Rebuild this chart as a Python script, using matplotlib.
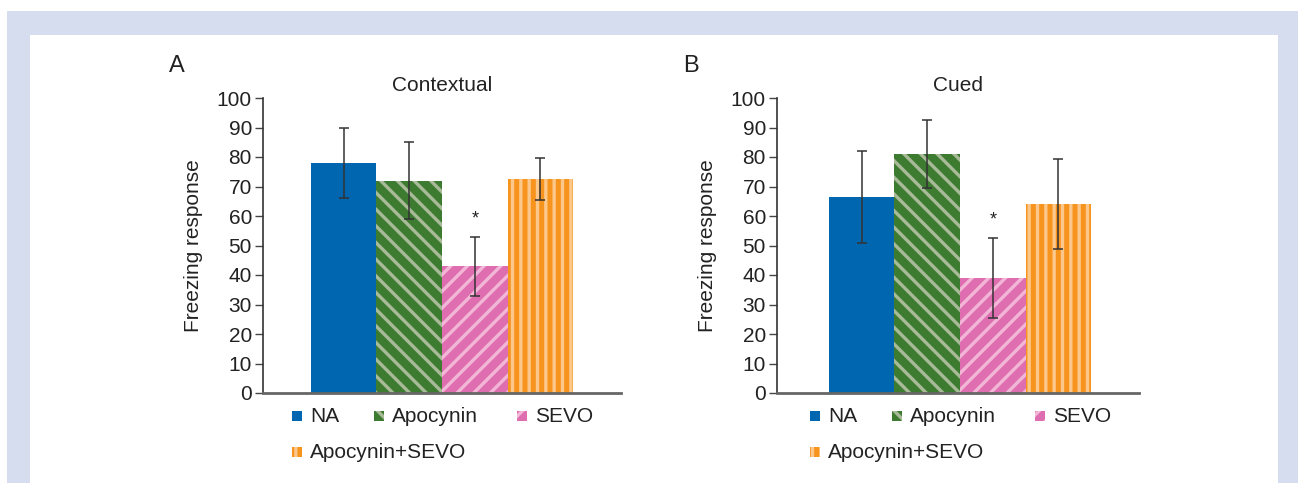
import matplotlib
matplotlib.use("Agg")
import matplotlib.pyplot as plt
from matplotlib.patches import Rectangle
import numpy as np

plt.rcParams['font.family'] = ['Liberation Sans', 'DejaVu Sans']
plt.rcParams['hatch.linewidth'] = 2.4

groups = ["NA", "Apocynin", "SEVO", "Apocynin+SEVO"]
contextual_mean = [78, 72, 43, 72.5]
contextual_err = [12, 13, 10, 7]
cued_mean = [66.5, 81, 39, 64]
cued_err = [15.5, 11.5, 13.5, 15.2]
panel_titles = ["Contextual", "Cued"]
panel_letters = ["A", "B"]
yticks = list(range(0, 101, 10))

fill_colors = ["#0066b0", "#3d7b31", "#de6eb0", "#f7941e"]
hatch_colors = [None, "#a8ba98", "#f2b6d6", "#fcc78a"]
hatches = [None, "\\\\", "//", "||"]

W, H = 1298, 483
fig = plt.figure(figsize=(W / 100, H / 100), dpi=100)
fig.patch.set_facecolor("white")

band = "#d5ddef"
def px_rect(x0, y0, x1, y1):
    fig.patches.append(Rectangle((x0 / W, 1 - y1 / H), (x1 - x0) / W, (y1 - y0) / H,
                                 transform=fig.transFigure, facecolor=band,
                                 edgecolor="none", zorder=-10))
px_rect(7, 11, 1298, 35)
px_rect(7, 11, 30, 483)
px_rect(1278, 11, 1298, 483)

FS = 15
axes_px = [(263, 621), (777, 1139)]
xlims = [(-1.23, 4.23), (-1.29, 4.23)]
top_px, bot_px = 98, 393
data = [(contextual_mean, contextual_err), (cued_mean, cued_err)]

for k, ((x0, x1), (means, errs)) in enumerate(zip(axes_px, data)):
    ax = fig.add_axes([x0 / W, 1 - bot_px / H, (x1 - x0) / W, (bot_px - top_px) / H])
    x = np.arange(len(groups))
    for i in range(len(groups)):
        if hatches[i] is None:
            ax.bar(x[i], means[i], width=1.0, color=fill_colors[i], linewidth=0, zorder=2)
        else:
            ax.bar(x[i], means[i], width=1.0, color=fill_colors[i], edgecolor=hatch_colors[i],
                   linewidth=0, hatch=hatches[i], zorder=2)
    ax.errorbar(x, means, yerr=errs, fmt="none", ecolor="#333333", elinewidth=1.1,
                capsize=3.3, capthick=1.1, zorder=3)
    ax.text(x[2], means[2] + errs[2] + 6.0, "*", ha="center", va="center",
            fontsize=13, color="#222222")
    ax.set_xlim(*xlims[k])
    ax.set_ylim(0, 100)
    ax.set_yticks(yticks)
    ax.set_xticks([])
    ax.tick_params(axis="y", direction="out", length=6, width=1.0, color="#444444",
                   labelsize=FS, labelcolor="#222222", pad=2)
    for s in ("top", "right"):
        ax.spines[s].set_visible(False)
    ax.spines["left"].set_color("#333333")
    ax.spines["left"].set_linewidth(1.2)
    ax.spines["bottom"].set_color("#666666")
    ax.spines["bottom"].set_linewidth(2.0)
    ax.set_ylabel("Freezing response", fontsize=FS, color="#222222", labelpad=10)
    ax.set_title(panel_titles[k], fontsize=FS, color="#222222", pad=5)
    ax.set_facecolor("none")

    # panel letter
    fig.text((x0 - 86) / W, 1 - 66 / H, panel_letters[k], fontsize=17, color="#222222",
             ha="center", va="center")

    # legend (manual layout)
    lx = x0 + 29 + 4 * k
    entries = [(0, lx, 416), (1, lx + 82, 416), (2, lx + 225, 416), (3, lx, 452)]
    for gi, ex, ey in entries:
        sq = 10
        r = Rectangle((ex / W, 1 - (ey + sq / 2) / H), sq / W, sq / H,
                      transform=fig.transFigure, facecolor=fill_colors[gi],
                      edgecolor=hatch_colors[gi] if hatch_colors[gi] else "none",
                      linewidth=0, hatch=hatches[gi])
        fig.patches.append(r)
        fig.text((ex + 18) / W, 1 - ey / H, groups[gi], fontsize=FS, color="#222222",
                 ha="left", va="center")

fig.savefig("out.png", dpi=100, facecolor="white")
